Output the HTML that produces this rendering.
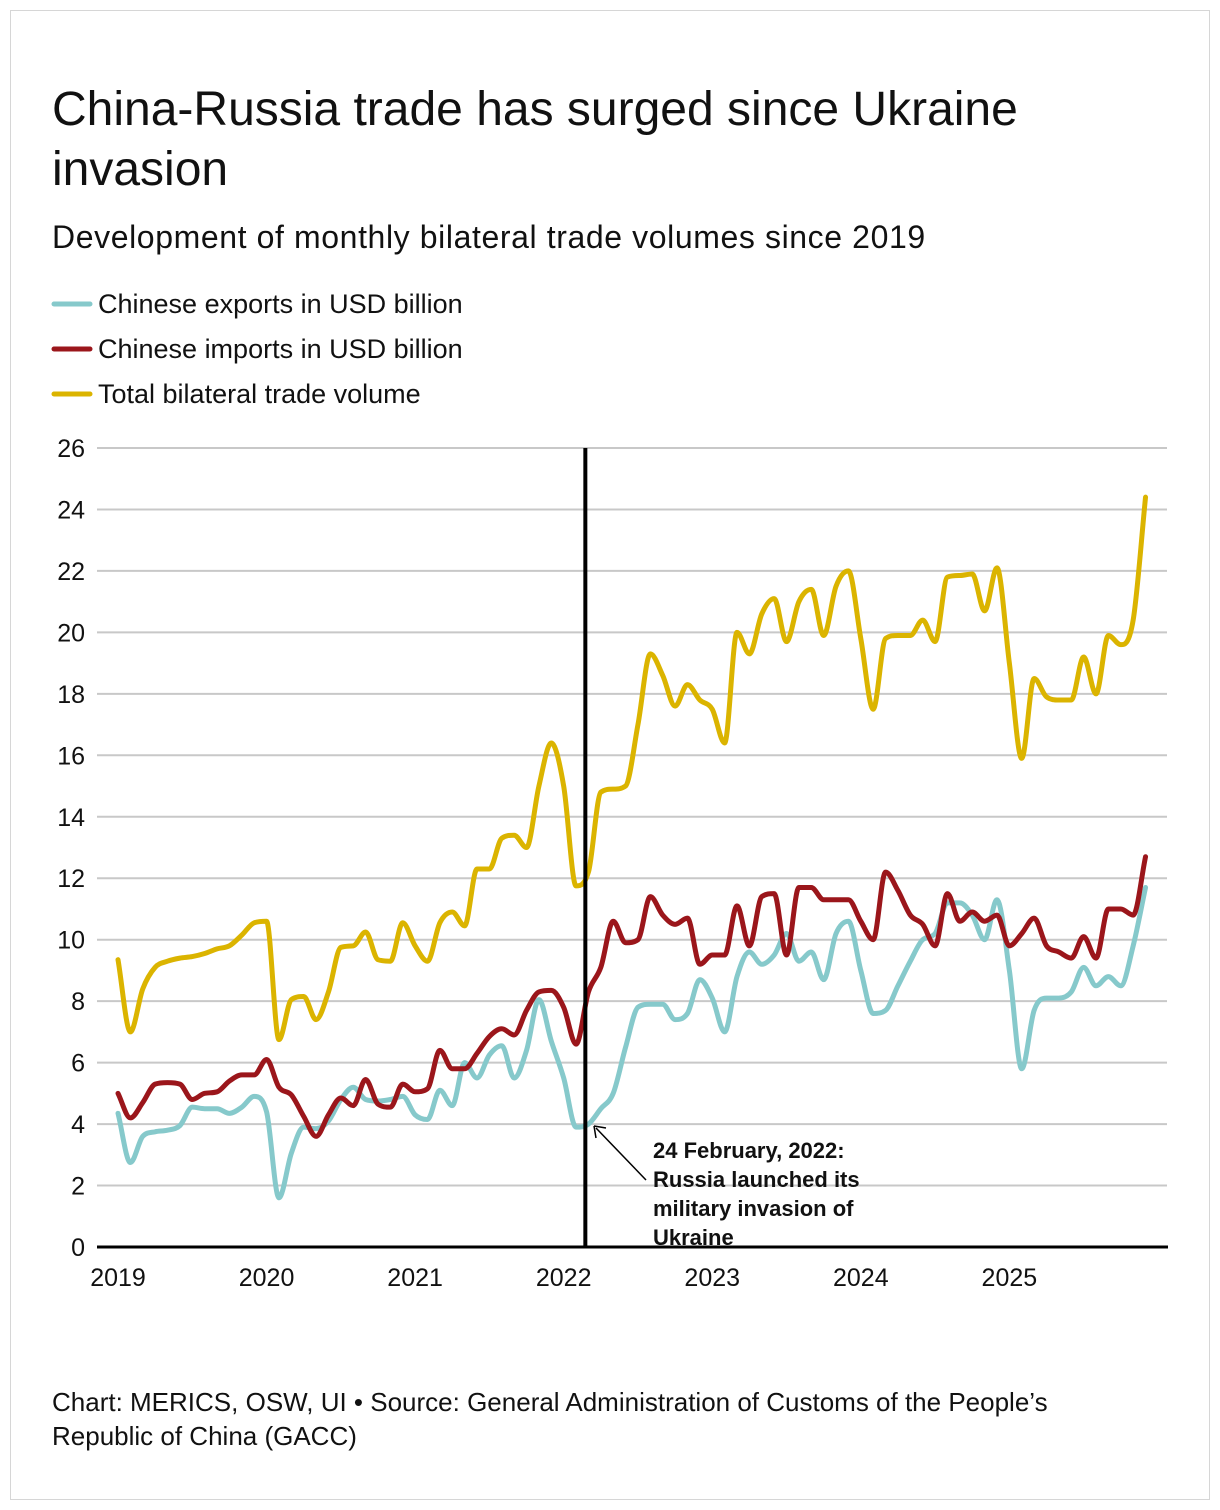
<!DOCTYPE html>
<html><head><meta charset="utf-8">
<style>
html,body{margin:0;padding:0;background:#fff;}
body{width:1220px;height:1510px;position:relative;font-family:"Liberation Sans",sans-serif;color:#111;}
#frame{position:absolute;left:10px;top:10px;width:1198px;height:1488px;border:1px solid #d6d6d6;}
#title{position:absolute;left:52px;top:80px;font-size:48px;line-height:60px;margin:0;font-weight:normal;white-space:nowrap;}
#subtitle{position:absolute;left:52px;top:219px;font-size:32px;letter-spacing:0.6px;margin:0;font-weight:normal;white-space:nowrap;}
#source{position:absolute;left:52px;top:1385px;font-size:26px;line-height:34px;white-space:nowrap;}
svg{position:absolute;left:0;top:0;}
</style></head>
<body>
<div id="frame"></div>
<h1 id="title">China-Russia trade has surged since Ukraine<br>invasion</h1>
<h2 id="subtitle">Development of monthly bilateral trade volumes since 2019</h2>
<div id="source">Chart: MERICS, OSW, UI • Source: General Administration of Customs of the People’s<br>Republic of China (GACC)</div>
<svg id="chart" width="1220" height="1510"></svg>
<script>
const yTicks=[0,2,4,6,8,10,12,14,16,18,20,22,24,26];
const yearLabels=["2019","2020","2021","2022","2023","2024","2025"];
const seriesNames=["Chinese exports in USD billion","Chinese imports in USD billion","Total bilateral trade volume"];
const exportsData=[4.35,2.75,3.6,3.75,3.8,3.95,4.55,4.5,4.5,4.35,4.55,4.9,
4.4,1.6,3.05,3.9,3.85,4.1,4.8,5.2,4.8,4.75,4.8,4.9,
4.3,4.15,5.1,4.6,6.0,5.5,6.25,6.55,5.5,6.4,8.05,6.7,
5.5,3.9,4.0,4.5,5.0,6.5,7.8,7.9,7.9,7.4,7.6,8.7,
8.1,7.0,8.8,9.6,9.2,9.5,10.2,9.3,9.6,8.7,10.2,10.6,
9.0,7.6,7.7,8.5,9.3,10.0,10.2,11.2,11.2,10.8,10.0,11.3,
9.0,5.8,7.7,8.1,8.1,8.3,9.1,8.5,8.8,8.5,9.8,11.7];
const importsData=[5.0,4.2,4.7,5.3,5.35,5.3,4.8,5.0,5.05,5.4,5.6,5.6,
6.1,5.2,4.95,4.25,3.6,4.3,4.85,4.6,5.45,4.65,4.55,5.3,
5.05,5.15,6.4,5.8,5.8,6.3,6.85,7.1,6.9,7.7,8.3,8.35,
7.8,6.6,8.3,9.1,10.6,9.9,10.0,11.4,10.8,10.5,10.7,9.2,
9.5,9.5,11.1,9.8,11.4,11.5,9.5,11.7,11.7,11.3,11.3,11.3,
10.6,10.0,12.2,11.6,10.8,10.5,9.8,11.5,10.6,10.9,10.6,10.8,
9.8,10.2,10.7,9.8,9.6,9.4,10.1,9.4,11.0,11.0,10.8,12.7];
const totalData=[9.35,7.0,8.4,9.1,9.3,9.4,9.45,9.55,9.7,9.8,10.15,10.55,
10.6,6.75,8.05,8.15,7.4,8.3,9.75,9.8,10.25,9.35,9.3,10.55,
9.8,9.3,10.55,10.9,10.45,12.3,12.3,13.3,13.4,13.0,15.0,16.4,
15.0,11.75,12.2,14.8,14.9,15.0,17.0,19.3,18.6,17.6,18.3,17.8,
17.5,16.4,20.0,19.3,20.6,21.1,19.7,21.0,21.4,19.9,21.5,22.0,
19.8,17.5,19.8,19.9,19.9,20.4,19.7,21.8,21.85,21.9,20.7,22.1,
19.0,15.9,18.5,17.9,17.8,17.8,19.2,18.0,19.9,19.6,20.4,24.4];
const invasionMonth=37.75;

const svg=document.getElementById('chart');
const NS='http://www.w3.org/2000/svg';
const X0=118, MW=12.38, Y0=1247, YU=(1247-448)/26;
function xs(i){return X0+i*MW;}
function ys(v){return Y0-v*YU;}
function mk(tag,attrs){const e=document.createElementNS(NS,tag);for(const k in attrs)e.setAttribute(k,attrs[k]);svg.appendChild(e);return e;}

yTicks.forEach(t=>{
  if(t>0){const g=mk('line',{x1:97,x2:1167,y1:ys(t),y2:ys(t),stroke:'#c8c8c8','stroke-width':2});
  
  }
  const l=mk('text',{x:85,y:ys(t)+9,'text-anchor':'end','font-size':25,fill:'#111','font-family':'Liberation Sans, sans-serif'});
  l.textContent=t;
  
  
});
yearLabels.forEach((y,k)=>{
  const l=mk('text',{x:xs(k*12),y:1286,'text-anchor':'middle','font-size':25,fill:'#111','font-family':'Liberation Sans, sans-serif'});
  l.textContent=y;
  
  
});

function monotonePath(pts){
  const n=pts.length;const d=[],m=[];
  for(let i=0;i<n-1;i++)d.push((pts[i+1][1]-pts[i][1])/(pts[i+1][0]-pts[i][0]));
  for(let i=0;i<n;i++){
    if(i===0)m.push(d[0]);else if(i===n-1)m.push(d[n-2]);
    else m.push(d[i-1]*d[i]<=0?0:(d[i-1]+d[i])/2);
  }
  for(let i=0;i<n-1;i++){if(d[i]===0){m[i]=0;m[i+1]=0;continue;}
    const a=m[i]/d[i],b=m[i+1]/d[i],s=a*a+b*b;if(s>9){const t=3/Math.sqrt(s);m[i]=t*a*d[i];m[i+1]=t*b*d[i];}}
  let p='M'+pts[0][0]+','+pts[0][1];
  for(let i=0;i<n-1;i++){const h=(pts[i+1][0]-pts[i][0])/3;
    p+=' C'+(pts[i][0]+h)+','+(pts[i][1]+m[i]*h)+' '+(pts[i+1][0]-h)+','+(pts[i+1][1]-m[i+1]*h)+' '+pts[i+1][0]+','+pts[i+1][1];}
  return p;
}
function drawSeries(data,color,name){
  const pts=data.map((v,i)=>[xs(i),ys(v)]);
  const p=mk('path',{d:monotonePath(pts),fill:'none',stroke:color,'stroke-width':5,'stroke-linejoin':'round','stroke-linecap':'round'});
  
  
}
drawSeries(totalData,'#dbb400','total-trade-line');
drawSeries(exportsData,'#86c9cb','exports-line');
drawSeries(importsData,'#9b161b','imports-line');

const ax=mk('line',{x1:97,x2:1168,y1:Y0,y2:Y0,stroke:'#000','stroke-width':3});


const vx=xs(invasionMonth);
const vl=mk('line',{x1:vx,x2:vx,y1:448,y2:Y0,stroke:'#000','stroke-width':4});



const arr=mk('line',{x1:646,y1:1180,x2:596,y2:1128,stroke:'#000','stroke-width':1.5});


const ah=mk('path',{d:'M594,1126 L596,1138 M594,1126 L606,1128',stroke:'#000','stroke-width':1.5,fill:'none'});


["24 February, 2022:","Russia launched its","military invasion of","Ukraine"].forEach((s,k)=>{
  const t=mk('text',{x:653,y:1158+k*29,'font-size':22,'font-weight':'bold',fill:'#111','font-family':'Liberation Sans, sans-serif'});
  t.textContent=s;
  
  
});

const legColors=['#86c9cb','#9b161b','#dbb400'];
seriesNames.forEach((s,k)=>{
  const y=304+k*45;
  const l=mk('line',{x1:54,x2:90,y1:y,y2:y,stroke:legColors[k],'stroke-width':5,'stroke-linecap':'round'});
  
  
  const t=mk('text',{x:98,y:y+9,'font-size':27,fill:'#111','font-family':'Liberation Sans, sans-serif'});
  t.textContent=s;
  
  
});
</script>
</body></html>
